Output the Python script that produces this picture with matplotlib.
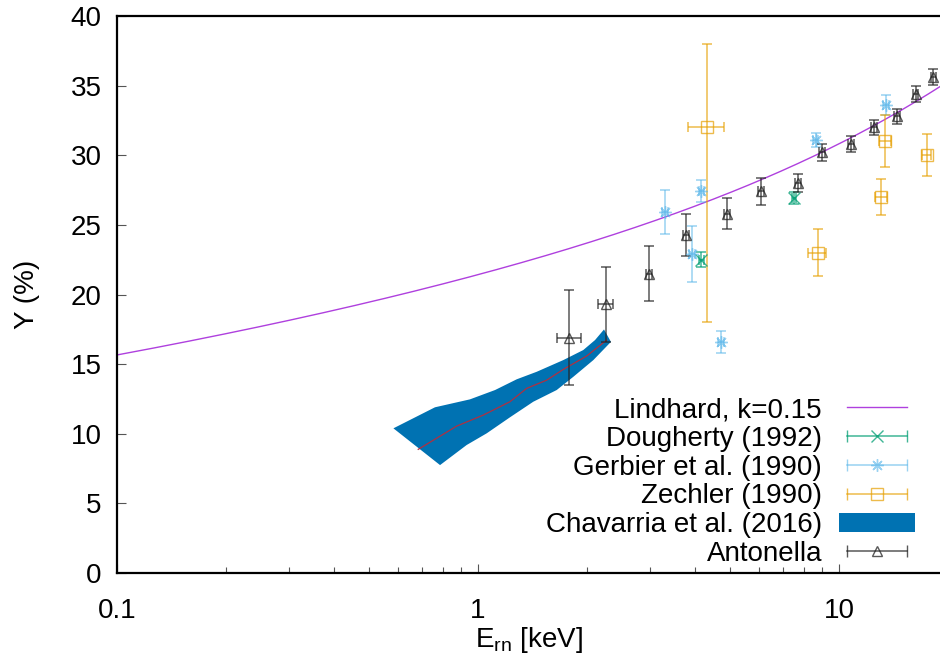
import numpy as np
import matplotlib
matplotlib.use("Agg")
import matplotlib.pyplot as plt
from matplotlib.lines import Line2D
from matplotlib.patches import Polygon
from matplotlib.legend_handler import HandlerLine2D

plt.rcParams['font.family'] = ['Liberation Sans', 'DejaVu Sans']
plt.rcParams['mathtext.fontset'] = 'custom'
plt.rcParams['mathtext.rm'] = 'Liberation Sans'

# Lindhard model (Si: Z=14), k = 0.15
k_lind = 0.15
Z_si = 14

# Antonella
ant_E = [1.79, 2.26, 2.98, 3.76, 4.89, 6.08, 7.69, 8.97, 10.8, 12.5, 14.5, 16.3, 18.25]
ant_Eerr = [0.14, 0.11, 0.06, 0.07, 0.09, 0.11, 0.14, 0.16, 0.19, 0.22, 0.26, 0.29, 0.32]
ant_Y = [16.9, 19.3, 21.5, 24.3, 25.8, 27.4, 28.0, 30.2, 30.8, 32.0, 32.8, 34.4, 35.6]
ant_Yerr = [3.4, 2.7, 2.0, 1.5, 1.1, 0.95, 0.63, 0.6, 0.58, 0.53, 0.52, 0.54, 0.56]

# Gerbier et al. (1990)
ger_E = [3.30, 3.92, 4.16, 4.71, 8.62, 13.5]
ger_Eerr = [0.06, 0.07, 0.07, 0.08, 0.15, 0.24]
ger_Y = [25.9, 22.9, 27.4, 16.6, 31.1, 33.6]
ger_Yerr = [1.58, 2.0, 0.79, 0.78, 0.48, 0.73]

# Dougherty (1992)
dou_E = [4.16, 7.52]
dou_Eerr = [0.07, 0.1]
dou_Y = [22.5, 26.9]
dou_Yerr = [0.56, 0.43]

# Zechler (1990)
zec_E = [4.31, 8.73, 13.05, 13.44, 17.5]
zec_Eerr = [0.5, 0.5, 0.5, 0.5, 0.5]
zec_Y = [32.0, 23.0, 27.0, 31.0, 30.0]
zec_Yerr_lo = [14.0, 1.7, 1.3, 1.87, 1.5]
zec_Yerr_hi = [6.0, 1.7, 1.3, 1.87, 1.5]

# Chavarria et al. (2016) band
cha_up_E = [0.583, 0.760, 0.950, 1.115, 1.280, 1.454, 1.723, 1.957, 2.110, 2.234, 2.335]
cha_up_Y = [10.39, 11.90, 12.47, 13.14, 13.91, 14.45, 15.29, 16.01, 16.73, 17.49, 16.60]
cha_lo_E = [0.785, 0.930, 1.057, 1.226, 1.423, 1.652, 1.837, 2.087]
cha_lo_Y = [7.75, 9.19, 10.03, 11.18, 12.30, 13.14, 14.09, 15.29]
cha_mid_E = [0.683, 0.873, 1.034, 1.226, 1.364, 1.550, 1.723, 2.0, 2.272]
cha_mid_Y = [8.88, 10.55, 11.34, 12.30, 13.26, 13.85, 14.62, 15.58, 16.73]


def lindhard(E):
    eps = 11.5 * E * Z_si ** (-7.0 / 3.0)
    g = 3 * eps ** 0.15 + 0.7 * eps ** 0.6 + eps
    return 100 * k_lind * g / (1 + k_lind * g)


fig = plt.figure(figsize=(9.4, 6.59), dpi=100)
ax = fig.add_axes([0.1245, 0.1305, 0.8755, 0.8452])
ax.set_xscale('log')
ax.set_xlim(0.1, 19.05)
ax.set_ylim(0, 40)

c_lind = '#9400d3'
c_dou = '#009e73'
c_ger = '#56b4e9'
c_zec = '#e69f00'
c_cha = '#0072b2'
c_ant = '#222222'

E_line = np.logspace(-1, np.log10(19.05), 400)
lind_line, = ax.plot(E_line, lindhard(E_line), color=c_lind, lw=1.0, alpha=0.75, zorder=2)

# band
band_xy = list(zip(cha_up_E, cha_up_Y)) + list(zip(cha_lo_E[::-1], cha_lo_Y[::-1]))
band = Polygon(band_xy, closed=True, facecolor=c_cha, edgecolor='none', zorder=3)
ax.add_patch(band)
ax.plot(cha_mid_E, cha_mid_Y, color='#b03040', lw=0.9, zorder=4)

eb_kw = dict(ls='none', capsize=3.5, elinewidth=1.1, capthick=1.1, zorder=5)
ax.errorbar(dou_E, dou_Y, xerr=dou_Eerr, yerr=dou_Yerr, color=c_dou, marker='x',
            ms=8, alpha=0.75, **eb_kw)
ax.errorbar(ger_E, ger_Y, xerr=ger_Eerr, yerr=ger_Yerr, color=c_ger, marker=(8, 2, 0),
            ms=9, alpha=0.6, **eb_kw)
ax.errorbar(zec_E, zec_Y, xerr=zec_Eerr, yerr=[zec_Yerr_lo, zec_Yerr_hi], color=c_zec,
            marker='s', mfc='none', ms=9, alpha=0.7, **eb_kw)
ax.errorbar(ant_E, ant_Y, xerr=ant_Eerr, yerr=ant_Yerr, color=c_ant, marker='^',
            mfc='none', ms=7, alpha=0.75, **eb_kw)

# legend handles (gnuplot style: line with caps and a marker in the middle)
def eb_handle(color, marker, alpha, ms):
    caps = Line2D([], [], color=color, lw=1.1, marker='|', ms=8, alpha=alpha)
    pt = Line2D([], [], color=color, marker=marker, ls='none', mfc='none', ms=ms, alpha=alpha)
    return (caps, pt), pt

h_dou, p_dou = eb_handle(c_dou, 'x', 0.75, 8)
h_ger, p_ger = eb_handle(c_ger, (8, 2, 0), 0.6, 9)
h_zec, p_zec = eb_handle(c_zec, 's', 0.7, 9)
h_ant, p_ant = eb_handle(c_ant, '^', 0.75, 7)
hmap = {p: HandlerLine2D(numpoints=1) for p in (p_dou, p_ger, p_zec, p_ant)}

handles = [lind_line, h_dou, h_ger, h_zec, band, h_ant]
labels = ['Lindhard, k=0.15', 'Dougherty (1992)', 'Gerbier et al. (1990)',
          'Zechler (1990)', 'Chavarria et al. (2016)', 'Antonella']
ax.legend(handles, labels, handler_map=hmap, loc='lower right', numpoints=2,
          bbox_to_anchor=(915 / 940, (659 - 567) / 659), bbox_transform=fig.transFigure,
          frameon=False, markerfirst=False, fontsize=20, handlelength=2.75,
          handletextpad=0.6, labelspacing=0.1, borderpad=0, borderaxespad=0)

ax.set_xticks([0.1, 1, 10])
ax.set_xticklabels(['0.1', '1', '10'])
ax.set_yticks(range(0, 41, 5))
ax.tick_params(which='both', direction='in', color='#555555', labelsize=20)
ax.tick_params(which='major', length=6.5, width=0.8)
ax.tick_params(which='minor', length=4, width=0.8)
ax.tick_params(axis='x', which='major', pad=18)
ax.tick_params(axis='y', which='major', pad=11)
ax.spines['right'].set_visible(False)
for s in ('left', 'bottom', 'top'):
    ax.spines[s].set_linewidth(1.6)

ax.set_xlabel(r'E$_{\mathrm{rn}}$ [keV]', fontsize=20, labelpad=1)
ax.set_ylabel('Y (%)', fontsize=20, labelpad=22)

fig.savefig('out.png', dpi=100)
